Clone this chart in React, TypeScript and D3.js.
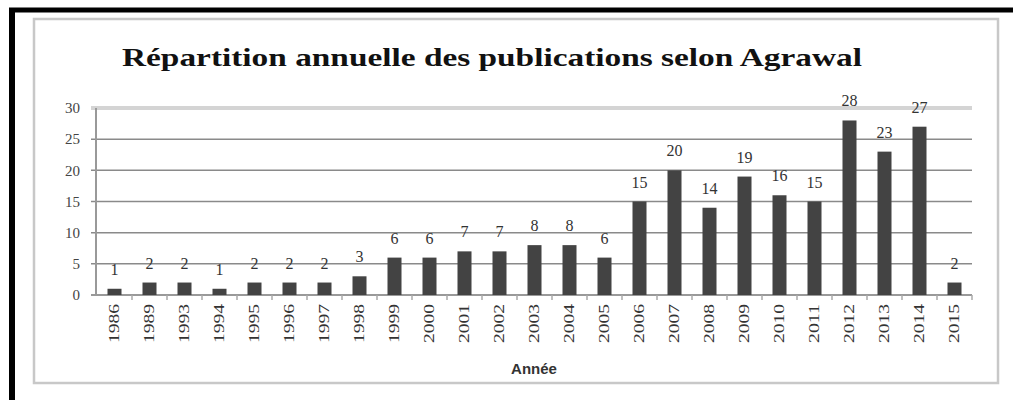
import React from "react";
import * as d3 from "d3";

const years = ["1986","1989","1993","1994","1995","1996","1997","1998","1999","2000","2001","2002","2003","2004","2005","2006","2007","2008","2009","2010","2011","2012","2013","2014","2015"];
const counts = [1,2,2,1,2,2,2,3,6,6,7,7,8,8,6,15,20,14,19,16,15,28,23,27,2];
const yTicks = [0,5,10,15,20,25,30];
const title = "Répartition annuelle des publications selon Agrawal";
const xTitle = "Année";

export default function App() {
  const W = 1013, H = 400;
  const x = d3.scaleBand<string>().domain(years).range([97, 972]).paddingInner(0.6).paddingOuter(0.3);
  const xb = d3.scaleBand<string>().domain(years).range([97, 972]);
  const y = d3.scaleLinear().domain([0, 30]).range([295, 108]);
  const serif = "'Liberation Serif', 'Times New Roman', serif";
  const sans = "'Liberation Sans', Arial, sans-serif";
  return (
    <svg width={W} height={H} style={{ position: "absolute", left: 0, top: 0, background: "#fff" }}>
      <rect x={0} y={0} width={W} height={H} fill="#fff" />
      {/* black frame */}
      <line x1={9} y1={10} x2={W} y2={10} stroke="#000" strokeWidth={5} />
      <line x1={12} y1={8} x2={12} y2={H} stroke="#000" strokeWidth={6} />
      {/* chart box */}
      <rect x={34} y={19} width={964} height={364} fill="#fff" stroke="#c8c8c8" strokeWidth={2.5} />
      <text x={492} y={66} textAnchor="middle" fontFamily={serif} fontWeight="bold" fontSize={26}
        textLength={740} lengthAdjust="spacingAndGlyphs" fill="#111">{title}</text>
      {/* gridlines */}
      {yTicks.filter(t => t > 0).map(t => (
        <line key={"g" + t} x1={91} x2={972} y1={y(t)} y2={y(t)}
          stroke={t === 30 ? "#d4d4d4" : "#8a8a8a"} strokeWidth={t === 30 ? 4 : 1.5} />
      ))}
      {/* y labels */}
      {yTicks.map(t => (
        <text key={"yl" + t} x={80} y={y(t)} dy="0.35em" textAnchor="end" fontFamily={serif}
          fontSize={15} fill="#444">{t}</text>
      ))}
      {/* axes */}
      <line x1={96} x2={96} y1={108} y2={296} stroke="#999" strokeWidth={2} />
      <line x1={91} x2={972} y1={295} y2={295} stroke="#999" strokeWidth={2} />
      {years.map((yr, i) => (
        <line key={"tk" + yr} x1={(xb(yr) as number) + xb.bandwidth()} x2={(xb(yr) as number) + xb.bandwidth()}
          y1={295} y2={300} stroke="#aaa" strokeWidth={1.5} />
      ))}
      {/* bars */}
      {years.map((yr, i) => (
        <rect key={"b" + yr} x={x(yr)} y={y(counts[i])} width={x.bandwidth()} height={y(0) - y(counts[i])} fill="#434343" />
      ))}
      {/* value labels */}
      {years.map((yr, i) => (
        <text key={"v" + yr} x={(x(yr) as number) + x.bandwidth() / 2} y={y(counts[i]) - 14}
          textAnchor="middle" fontFamily={serif} fontSize={16} fill="#333">{counts[i]}</text>
      ))}
      {/* x labels */}
      {years.map(yr => {
        const cx = (xb(yr) as number) + xb.bandwidth() / 2;
        return (
          <text key={"xl" + yr} transform={`translate(${cx},343) rotate(-90)`} dy="0.35em" textAnchor="start"
            fontFamily={serif} fontSize={14} fill="#333" textLength={39} lengthAdjust="spacingAndGlyphs">{yr}</text>
        );
      })}
      <text x={534} y={374} textAnchor="middle" fontFamily={sans} fontWeight="bold" fontSize={15} fill="#333">{xTitle}</text>
    </svg>
  );
}
